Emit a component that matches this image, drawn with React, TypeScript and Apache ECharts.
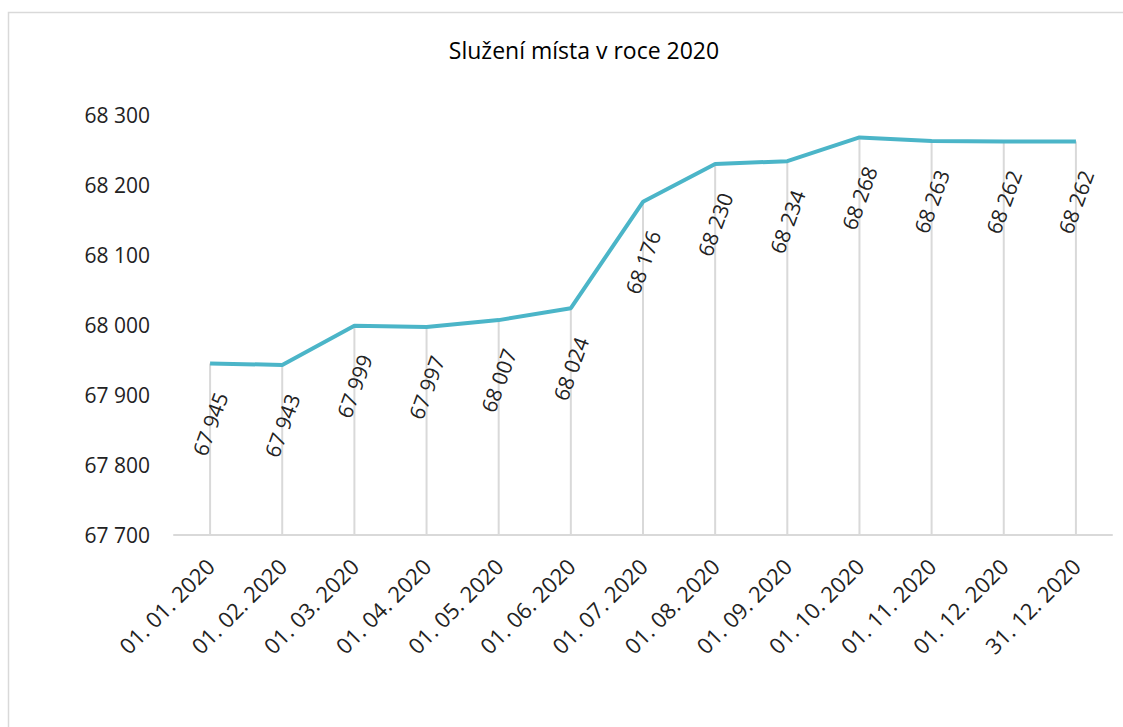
import React, { useEffect, useRef } from "react";
import * as echarts from "echarts";

const title = "Služení místa v roce 2020";
const categories = [
  "01. 01. 2020", "01. 02. 2020", "01. 03. 2020", "01. 04. 2020", "01. 05. 2020",
  "01. 06. 2020", "01. 07. 2020", "01. 08. 2020", "01. 09. 2020", "01. 10. 2020",
  "01. 11. 2020", "01. 12. 2020", "31. 12. 2020",
];
const values = [67945, 67943, 67999, 67997, 68007, 68024, 68176, 68230, 68234, 68268, 68263, 68262, 68262];
const yMin = 67700;
const yMax = 68300;
const yStep = 100;

const fmt = (v: number) => {
  const s = String(Math.round(v));
  return s.replace(/\B(?=(\d{3})+(?!\d))/g, " ");
};

const FONT = "'Open Sans', 'Noto Sans', sans-serif";

export default function App() {
  const ref = useRef<HTMLDivElement>(null);
  useEffect(() => {
    if (!ref.current) return;
    const chart = echarts.init(ref.current, null, { renderer: "svg" });
    chart.setOption({
      animation: false,
      backgroundColor: "#ffffff",
      title: {
        text: title,
        left: 579,
        textAlign: "center",
        top: 33,
        textStyle: { fontFamily: FONT, fontSize: 23, fontWeight: "normal", color: "#000000" },
      },
      graphic: [
        {
          type: "rect",
          shape: { x: 8.5, y: 12.5, width: 1130, height: 730 },
          style: { fill: "none", stroke: "#d9d9d9", lineWidth: 1.5 },
          silent: true,
        },
      ],
      grid: { left: 174, right: 11, top: 115, bottom: 192, containLabel: false },
      xAxis: {
        type: "category",
        data: categories,
        boundaryGap: true,
        axisLine: { lineStyle: { color: "#d9d9d9", width: 2 } },
        axisTick: { show: false },
        axisLabel: {
          rotate: 45,
          margin: 27,
          interval: 0,
          fontFamily: FONT,
          fontSize: 22,
          color: "#222222",
        },
      },
      yAxis: {
        type: "value",
        min: yMin,
        max: yMax,
        interval: yStep,
        axisLine: { show: false },
        axisTick: { show: false },
        splitLine: { show: false },
        axisLabel: {
          margin: 24,
          formatter: (v: number) => fmt(v),
          fontFamily: FONT,
          fontSize: 21,
          color: "#222222",
        },
      },
      series: [
        {
          type: "custom",
          silent: true,
          z: 1,
          renderItem: (params: any, api: any) => {
            const top = api.coord([api.value(0), api.value(1)]);
            const bottom = api.coord([api.value(0), yMin]);
            return {
              type: "line",
              shape: { x1: top[0], y1: top[1], x2: bottom[0], y2: bottom[1] },
              style: { stroke: "#d9d9d9", lineWidth: 2 },
            };
          },
          data: values.map((v, i) => [i, v]),
        },
        {
          type: "line",
          z: 3,
          data: values,
          showSymbol: true,
          symbol: "circle",
          symbolSize: 1,
          itemStyle: { color: "rgba(0,0,0,0)" },
          lineStyle: { color: "#4bb5c8", width: 4 },
          label: {
            show: true,
            position: "bottom",
            distance: 60,
            rotate: 70,
            align: "center",
            verticalAlign: "middle",
            formatter: (p: any) => fmt(p.value),
            fontFamily: FONT,
            fontSize: 21,
            color: "#222222",
          },
        },
      ],
    });
    return () => chart.dispose();
  }, []);
  return (
    <div
      ref={ref}
      style={{ position: "absolute", left: 0, top: 0, width: 1123, height: 727 }}
    />
  );
}
